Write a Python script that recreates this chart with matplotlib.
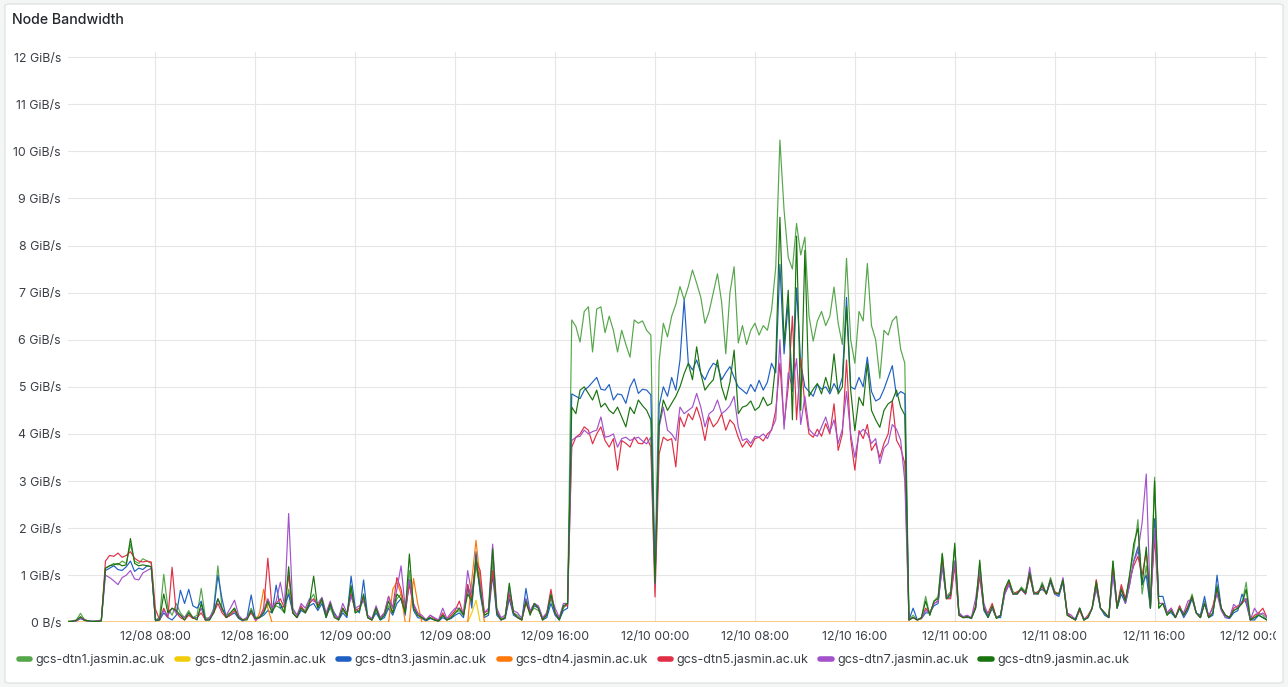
import datetime as dt
import matplotlib
matplotlib.use("Agg")
import matplotlib.pyplot as plt
import matplotlib.dates as mdates
from matplotlib.lines import Line2D
from matplotlib.patches import FancyBboxPatch
from matplotlib.transforms import Bbox

plt.rcParams['font.family'] = ['Inter', 'DejaVu Sans']

# ---------------- data (GiB/s), 20-minute samples from 12/08 01:00 ----------------
start = dt.datetime(2023, 12, 8, 1, 0)
step_minutes = 20

series_names = ["gcs-dtn1.jasmin.ac.uk", "gcs-dtn2.jasmin.ac.uk", "gcs-dtn3.jasmin.ac.uk",
                "gcs-dtn4.jasmin.ac.uk", "gcs-dtn5.jasmin.ac.uk", "gcs-dtn7.jasmin.ac.uk",
                "gcs-dtn9.jasmin.ac.uk"]
series_colors = ["#56A64B", "#F2CC0C", "#1F60C4", "#FF780A", "#E02F44", "#A352CC", "#19730E"]

dtn1 = [
    0.02, 0.03, 0.05, 0.19, 0.05, 0.03, 0.02, 0.03, 0.05, 1.15,
    1.2, 1.25, 1.22, 1.3, 1.25, 1.65, 1.3, 1.25, 1.35, 1.3,
    1.25, 0.05, 0.1, 1.02, 0.3, 0.15, 0.4, 0.2, 0.1, 0.25,
    0.1, 0.15, 0.72, 0.1, 0.08, 0.3, 1.2, 0.3, 0.15, 0.2,
    0.3, 0.1, 0.05, 0.1, 0.3, 0.1, 0.12, 0.2, 0.4, 0.25,
    0.35, 0.3, 0.2, 0.7, 0.25, 0.15, 0.3, 0.25, 0.45, 0.6,
    0.3, 0.45, 0.15, 0.3, 0.1, 0.08, 0.25, 0.15, 0.7, 0.2,
    0.25, 0.5, 0.1, 0.05, 0.25, 0.08, 0.15, 0.35, 0.2, 0.5,
    0.6, 0.2, 1.1, 0.3, 0.15, 0.1, 0.05, 0.1, 0.05, 0.03,
    0.15, 0.05, 0.1, 0.2, 0.25, 0.15, 0.7, 0.4, 1.2, 0.7,
    0.15, 0.2, 1.3, 0.2, 0.08, 0.1, 0.75, 0.2, 0.15, 0.05,
    0.5, 0.2, 0.3, 0.25, 0.08, 0.15, 0.5, 0.2, 0.05, 0.3,
    0.4, 6.42, 6.28, 5.95, 6.6, 6.7, 5.74, 6.65, 6.7, 6.15,
    6.5, 6.2, 5.74, 6.2, 5.9, 5.63, 6.42, 6.35, 6.4, 6.2,
    6.1, 0.8, 5.55, 6.35, 6.06, 6.5, 6.75, 7.13, 6.85, 7.13,
    7.48, 7.2, 6.9, 6.35, 6.6, 7.0, 7.4, 6.8, 5.7, 7.0,
    7.55, 5.93, 6.3, 5.9, 6.2, 6.35, 6.1, 6.3, 6.2, 6.63,
    7.54, 10.24, 8.75, 7.75, 7.5, 8.47, 7.8, 8.18, 6.5, 5.97,
    6.4, 6.6, 6.3, 6.5, 7.12, 6.35, 5.9, 7.73, 6.0, 5.5,
    6.6, 6.4, 7.62, 6.3, 6.0, 5.18, 6.2, 6.1, 6.4, 6.5,
    5.8, 5.5, 0.05, 0.15, 0.05, 0.1, 0.55, 0.15, 0.45, 0.55,
    1.47, 0.55, 0.65, 1.6, 0.2, 0.1, 0.12, 0.08, 0.3, 1.25,
    0.3, 0.15, 0.3, 0.1, 0.15, 0.7, 0.9, 0.65, 0.6, 0.75,
    0.65, 1.1, 0.65, 0.6, 0.85, 0.6, 0.95, 0.65, 0.6, 0.9,
    0.15, 0.1, 0.05, 0.3, 0.05, 0.1, 0.3, 0.9, 0.3, 0.2,
    0.1, 1.3, 0.3, 0.75, 0.45, 1.0, 1.5, 2.18, 0.6, 1.2,
    0.3, 3.08, 0.3, 0.4, 0.15, 0.25, 0.1, 0.35, 0.15, 0.3,
    0.6, 0.2, 0.1, 0.45, 0.1, 0.2, 0.8, 0.3, 0.15, 0.1,
    0.25, 0.3, 0.4, 0.85, 0.05, 0.1, 0.2, 0.15, 0.05,
]

dtn2 = [0.0] * 97 + [0.2, 0.47] + [0.0] * 190

dtn3 = [
    0.01, 0.02, 0.03, 0.08, 0.04, 0.02, 0.02, 0.02, 0.03, 1.1,
    1.15, 1.2, 1.12, 1.1, 1.18, 1.3, 1.08, 1.15, 1.12, 1.2,
    1.18, 0.03, 0.05, 0.2, 0.1, 0.05, 0.15, 0.68, 0.4, 0.7,
    0.35, 0.3, 0.45, 0.05, 0.05, 0.25, 1.0, 0.5, 0.1, 0.15,
    0.2, 0.08, 0.03, 0.1, 0.58, 0.08, 0.1, 0.15, 0.25, 0.2,
    0.79, 0.3, 0.35, 0.6, 0.2, 0.1, 0.25, 0.2, 0.35, 0.4,
    0.25, 0.4, 0.1, 0.35, 0.2, 0.05, 0.2, 0.1, 0.98, 0.3,
    0.2, 0.9, 0.1, 0.05, 0.2, 0.05, 0.1, 0.3, 0.15, 0.4,
    0.5, 0.15, 0.9, 0.25, 0.1, 0.08, 0.03, 0.08, 0.05, 0.02,
    0.1, 0.05, 0.08, 0.15, 0.2, 0.1, 0.8, 0.3, 1.5, 0.6,
    0.1, 0.15, 1.0, 0.15, 0.05, 0.08, 0.5, 0.15, 0.1, 0.05,
    0.72, 0.2, 0.35, 0.3, 0.05, 0.1, 0.4, 0.15, 0.05, 0.25,
    0.3, 4.85, 4.8, 4.75, 4.93, 5.0, 5.1, 5.2, 4.95, 4.93,
    5.05, 4.72, 4.85, 4.83, 4.65, 5.0, 5.17, 4.86, 4.95, 4.93,
    4.83, 1.0, 4.6, 5.0, 4.8, 5.2, 4.93, 5.57, 6.85, 5.5,
    5.36, 5.57, 5.29, 5.15, 5.36, 5.5, 5.45, 5.15, 5.3, 5.43,
    5.2, 5.0, 4.93, 4.85, 5.05, 4.9, 5.14, 4.93, 5.1, 5.5,
    5.3, 7.6, 5.7, 6.8, 4.9, 7.1, 5.5, 5.0, 4.9, 4.8,
    5.05, 4.95, 5.0, 4.85, 5.07, 4.9, 5.2, 6.9, 5.0, 4.95,
    5.2, 5.0, 5.63, 4.9, 4.7, 4.75, 4.95, 5.2, 5.45, 4.8,
    4.9, 4.85, 0.05, 0.3, 0.05, 0.08, 0.2, 0.2, 0.35, 0.4,
    1.2, 0.5, 0.55, 1.3, 0.2, 0.1, 0.1, 0.1, 0.3, 1.0,
    0.25, 0.1, 0.3, 0.1, 0.1, 0.6, 0.8, 0.6, 0.62, 0.7,
    0.6, 1.0, 0.6, 0.65, 0.7, 0.62, 0.85, 0.6, 0.55, 0.85,
    0.2, 0.1, 0.08, 0.3, 0.05, 0.1, 0.3, 0.75, 0.3, 0.15,
    0.1, 1.1, 0.3, 0.6, 0.4, 0.8, 1.3, 1.6, 0.8, 1.0,
    0.3, 2.2, 0.55, 0.55, 0.2, 0.2, 0.1, 0.3, 0.1, 0.25,
    0.5, 0.2, 0.15, 0.55, 0.1, 0.15, 1.0, 0.3, 0.1, 0.08,
    0.2, 0.25, 0.6, 0.4, 0.05, 0.05, 0.15, 0.1, 0.05,
]

dtn4 = ([0.0] * 46 + [0.2, 0.7, 0.3] + [0.0] * 29 + [0.7, 0.86, 0.6] + [0.0] * 2
        + [0.93, 0.4] + [0.0] * 12 + [0.9, 1.74, 0.9] + [0.0] * 189)

dtn5 = [
    0.01, 0.02, 0.04, 0.1, 0.06, 0.02, 0.01, 0.02, 0.04, 1.3,
    1.42, 1.4, 1.47, 1.38, 1.42, 1.5, 1.36, 1.3, 1.28, 1.3,
    1.28, 0.28, 0.05, 0.3, 0.1, 1.17, 0.2, 0.1, 0.05, 0.15,
    0.08, 0.1, 0.2, 0.05, 0.1, 0.2, 0.4, 0.2, 0.1, 0.15,
    0.25, 0.1, 0.05, 0.08, 0.2, 0.05, 0.1, 0.3, 1.36, 0.3,
    0.4, 0.5, 0.3, 1.0, 0.2, 0.1, 0.35, 0.2, 0.4, 0.5,
    0.35, 0.5, 0.15, 0.4, 0.15, 0.08, 0.3, 0.15, 0.6, 0.25,
    0.3, 0.55, 0.1, 0.05, 0.3, 0.1, 0.2, 0.55, 0.3, 0.95,
    0.7, 0.25, 0.8, 0.35, 0.2, 0.1, 0.05, 0.15, 0.08, 0.03,
    0.2, 0.05, 0.15, 0.25, 0.45, 0.15, 0.8, 0.5, 1.3, 1.1,
    0.2, 0.25, 1.1, 0.25, 0.05, 0.1, 0.6, 0.2, 0.1, 0.05,
    0.4, 0.2, 0.4, 0.3, 0.05, 0.2, 0.7, 0.2, 0.08, 0.35,
    0.35, 3.72, 3.93, 4.0, 4.15, 4.08, 3.79, 4.0, 4.15, 3.86,
    3.72, 3.9, 3.23, 3.86, 3.8, 3.72, 3.93, 3.8, 3.79, 3.93,
    3.72, 0.54, 3.58, 3.93, 3.86, 3.9, 3.3, 4.36, 4.15, 4.43,
    4.3, 4.57, 4.3, 3.86, 4.36, 4.15, 4.25, 4.43, 4.08, 4.3,
    4.2, 3.93, 3.72, 3.85, 3.72, 3.9, 3.93, 3.85, 4.0, 4.08,
    4.5, 5.5, 4.2, 5.0, 6.5, 4.3, 5.6, 4.6, 4.0, 3.93,
    4.1, 3.95, 4.22, 4.0, 4.64, 3.65, 4.0, 5.57, 3.9, 3.23,
    4.07, 3.9, 4.2, 3.65, 3.8, 3.5, 3.8, 4.0, 4.7, 3.87,
    3.7, 3.37, 0.05, 0.1, 0.05, 0.08, 0.3, 0.2, 0.4, 0.45,
    1.3, 0.5, 0.5, 1.2, 0.15, 0.1, 0.12, 0.1, 0.35, 1.0,
    0.3, 0.2, 0.4, 0.1, 0.15, 0.65, 0.85, 0.6, 0.65, 0.7,
    0.6, 1.0, 0.6, 0.65, 0.75, 0.6, 0.9, 0.65, 0.6, 0.9,
    0.2, 0.1, 0.05, 0.25, 0.05, 0.15, 0.3, 0.9, 0.3, 0.2,
    0.1, 1.2, 0.35, 0.8, 0.5, 0.9, 1.2, 1.4, 1.0, 1.5,
    0.4, 1.8, 0.4, 0.4, 0.2, 0.3, 0.1, 0.35, 0.15, 0.35,
    0.55, 0.2, 0.1, 0.4, 0.1, 0.35, 0.7, 0.3, 0.15, 0.1,
    0.3, 0.35, 0.4, 0.5, 0.05, 0.15, 0.2, 0.3, 0.1,
]

dtn7 = [
    0.01, 0.02, 0.03, 0.08, 0.05, 0.02, 0.02, 0.03, 0.03, 1.0,
    0.95, 0.88, 0.8, 0.95, 1.0, 1.1, 0.92, 0.9, 1.05, 1.1,
    1.15, 0.05, 0.08, 0.25, 0.15, 0.3, 0.2, 0.15, 0.1, 0.2,
    0.1, 0.1, 0.3, 0.05, 0.1, 0.25, 0.5, 0.25, 0.15, 0.3,
    0.47, 0.15, 0.05, 0.1, 0.25, 0.05, 0.1, 0.25, 0.5, 0.3,
    0.45, 0.85, 0.35, 2.31, 0.3, 0.15, 0.4, 0.3, 0.5, 0.45,
    0.4, 0.53, 0.2, 0.45, 0.15, 0.1, 0.4, 0.2, 0.55, 0.3,
    0.35, 0.45, 0.15, 0.08, 0.35, 0.1, 0.2, 0.55, 0.3, 0.7,
    1.2, 0.3, 0.9, 0.4, 0.2, 0.15, 0.05, 0.15, 0.1, 0.05,
    0.3, 0.08, 0.2, 0.3, 0.3, 0.2, 1.1, 0.6, 1.3, 0.8,
    0.2, 0.3, 1.66, 0.3, 0.1, 0.15, 0.7, 0.25, 0.2, 0.08,
    0.5, 0.25, 0.4, 0.35, 0.1, 0.2, 0.55, 0.3, 0.1, 0.4,
    0.4, 3.86, 3.93, 3.95, 4.08, 4.0, 4.05, 4.08, 4.36, 3.93,
    3.95, 4.0, 3.72, 3.9, 3.93, 3.86, 3.9, 3.93, 3.85, 3.79,
    3.93, 0.8, 4.15, 4.57, 4.08, 4.0, 3.86, 4.57, 4.43, 4.5,
    4.57, 4.86, 4.57, 4.15, 4.43, 4.5, 4.72, 4.43, 4.5, 4.6,
    4.8, 4.15, 3.86, 3.9, 3.8, 3.95, 3.93, 4.0, 3.9, 4.1,
    4.3, 6.0, 4.1, 5.3, 5.0, 5.6, 4.2, 4.8, 4.1, 4.0,
    3.95, 4.15, 4.36, 4.05, 4.3, 3.8, 4.1, 4.9, 4.0, 3.5,
    4.0, 4.1, 4.0, 3.8, 3.9, 3.37, 3.7, 3.8, 4.2, 4.1,
    3.87, 3.0, 0.05, 0.1, 0.05, 0.1, 0.25, 0.2, 0.4, 0.45,
    1.2, 0.55, 0.6, 1.3, 0.2, 0.12, 0.15, 0.1, 0.5, 1.1,
    0.4, 0.15, 0.3, 0.1, 0.15, 0.6, 0.8, 0.6, 0.6, 0.7,
    0.6, 1.17, 0.6, 0.6, 0.8, 0.6, 0.9, 0.6, 0.6, 0.95,
    0.2, 0.15, 0.05, 0.3, 0.08, 0.1, 0.3, 0.7, 0.3, 0.2,
    0.1, 1.0, 0.3, 0.7, 0.4, 0.8, 1.3, 1.5, 2.11, 3.15,
    0.3, 2.0, 0.4, 0.4, 0.2, 0.3, 0.1, 0.3, 0.2, 0.45,
    0.5, 0.2, 0.1, 0.4, 0.15, 0.3, 0.6, 0.25, 0.1, 0.1,
    0.38, 0.3, 0.45, 0.5, 0.05, 0.3, 0.15, 0.2, 0.1,
]

dtn9 = [
    0.02, 0.02, 0.04, 0.12, 0.04, 0.03, 0.02, 0.02, 0.03, 1.15,
    1.2, 1.22, 1.25, 1.2, 1.22, 1.78, 1.25, 1.2, 1.22, 1.2,
    1.18, 0.05, 0.05, 0.6, 0.2, 0.3, 0.25, 0.15, 0.05, 0.2,
    0.1, 0.05, 0.4, 0.05, 0.05, 0.2, 0.5, 0.3, 0.1, 0.2,
    0.3, 0.1, 0.05, 0.05, 0.25, 0.08, 0.1, 0.2, 0.45, 0.2,
    0.4, 0.4, 0.2, 1.18, 0.2, 0.1, 0.3, 0.2, 0.4, 0.98,
    0.3, 0.5, 0.1, 0.4, 0.1, 0.05, 0.3, 0.15, 0.78, 0.2,
    0.25, 0.6, 0.1, 0.05, 0.3, 0.05, 0.15, 0.45, 0.2, 0.6,
    0.5, 0.2, 1.45, 0.3, 0.15, 0.1, 0.05, 0.1, 0.05, 0.03,
    0.15, 0.05, 0.1, 0.2, 0.3, 0.15, 0.6, 0.45, 1.35, 0.7,
    0.15, 0.2, 1.56, 0.2, 0.05, 0.1, 0.83, 0.2, 0.1, 0.05,
    0.45, 0.15, 0.4, 0.3, 0.05, 0.15, 0.6, 0.2, 0.05, 0.35,
    0.4, 4.57, 4.43, 4.93, 5.0, 4.86, 4.72, 4.93, 4.57, 4.65,
    4.5, 4.43, 4.57, 4.36, 4.15, 4.57, 4.43, 4.72, 4.6, 4.5,
    4.3, 0.83, 4.2, 4.72, 4.5, 4.65, 4.8, 5.0, 5.28, 5.5,
    5.15, 5.85, 5.28, 4.93, 5.05, 5.15, 5.57, 5.0, 4.72, 5.1,
    5.78, 4.43, 4.57, 4.6, 4.7, 4.5, 4.57, 4.78, 4.6, 4.65,
    5.5, 8.6, 5.9, 7.05, 4.3, 8.2, 4.5, 7.9, 4.8, 4.95,
    5.07, 4.85, 5.2, 4.9, 5.7, 4.85, 5.0, 6.7, 4.93, 4.07,
    4.78, 4.6, 5.5, 4.5, 4.3, 4.14, 4.5, 4.64, 4.7, 4.93,
    4.57, 4.4, 0.05, 0.1, 0.05, 0.1, 0.45, 0.15, 0.45, 0.5,
    1.45, 0.5, 0.6, 1.68, 0.15, 0.1, 0.12, 0.08, 0.3, 1.32,
    0.3, 0.1, 0.35, 0.08, 0.15, 0.7, 0.9, 0.6, 0.6, 0.72,
    0.62, 1.05, 0.62, 0.6, 0.8, 0.6, 0.9, 0.62, 0.6, 0.9,
    0.15, 0.1, 0.05, 0.3, 0.05, 0.1, 0.3, 0.85, 0.3, 0.2,
    0.1, 1.3, 0.3, 0.7, 0.45, 1.0, 1.67, 2.0, 0.8, 1.6,
    0.3, 3.0, 0.3, 0.4, 0.15, 0.25, 0.1, 0.3, 0.15, 0.3,
    0.55, 0.2, 0.1, 0.4, 0.1, 0.2, 0.75, 0.3, 0.15, 0.1,
    0.25, 0.3, 0.4, 0.7, 0.05, 0.1, 0.15, 0.1, 0.05,
]

y_ticks = list(range(0, 13))
y_tick_labels = ["0 B/s"] + [f"{v} GiB/s" for v in range(1, 13)]

# ---------------- figure ----------------
W, H = 1288, 687
fig = plt.figure(figsize=(W / 100, H / 100), dpi=100)
fig.patch.set_facecolor("#F4F5F5")
panel = FancyBboxPatch((5 / W, 4 / H), 1278 / W, 679 / H,
                       boxstyle="round,pad=0,rounding_size=0.003",
                       transform=fig.transFigure, facecolor="white",
                       edgecolor="#DCDDDE", linewidth=0.8, zorder=-10)
fig.patches.append(panel)

fig.text(12 / W, 1 - 20 / H, "Node Bandwidth", fontsize=10.2, fontweight="medium",
         color="#24292E", va="center", ha="left")

ax = fig.add_axes([68 / W, (H - 622.3) / H, (1267 - 68) / W, (622.3 - 52) / H])
ax.set_facecolor("none")
ax.set_zorder(1)

all_series = [dtn1, dtn2, dtn3, dtn4, dtn5, dtn7, dtn9]
for vals, name, col in zip(all_series, series_names, series_colors):
    t = [start + dt.timedelta(minutes=step_minutes * k) for k in range(len(vals))]
    ax.plot(t, vals, color=col, lw=0.85, label=name, solid_joinstyle="round")

ax.set_xlim(start, start + dt.timedelta(hours=96))
ax.set_ylim(0, 12.11)
ax.set_yticks(y_ticks)
ax.set_yticklabels(y_tick_labels)
xt = [dt.datetime(2023, 12, 8, 8, 0) + dt.timedelta(hours=8 * k) for k in range(12)]
ax.set_xticks(xt)
ax.xaxis.set_major_formatter(mdates.DateFormatter("%m/%d %H:%M"))

for s in ax.spines.values():
    s.set_visible(False)
ax.grid(True, color="#E6E6E6", lw=0.8)
ax.set_axisbelow(True)
ax.tick_params(axis="both", length=0, labelsize=8.9, colors="#3B3F45")
ax.tick_params(axis="x", pad=6)
ax.tick_params(axis="y", pad=5)

# clip x tick labels at the plot canvas edge (as the dashboard does)
clip_bbox = Bbox([[0, 0], [1276, H]])
for tick in ax.xaxis.get_major_ticks():
    tick.label1.set_clip_box(clip_bbox)
    tick.label1.set_clip_on(True)

handles = [Line2D([0], [0], color=c, lw=4, solid_capstyle="round") for c in series_colors]
fig.legend(handles, series_names, loc="center left", bbox_to_anchor=(19 / W, 1 - 660 / H),
           ncol=7, frameon=False, fontsize=9.0, handlelength=0.9, handletextpad=0.45,
           columnspacing=0.95, labelcolor="#3B3F45", borderaxespad=0, borderpad=0)

fig.savefig("out.png", dpi=100, facecolor=fig.get_facecolor())
